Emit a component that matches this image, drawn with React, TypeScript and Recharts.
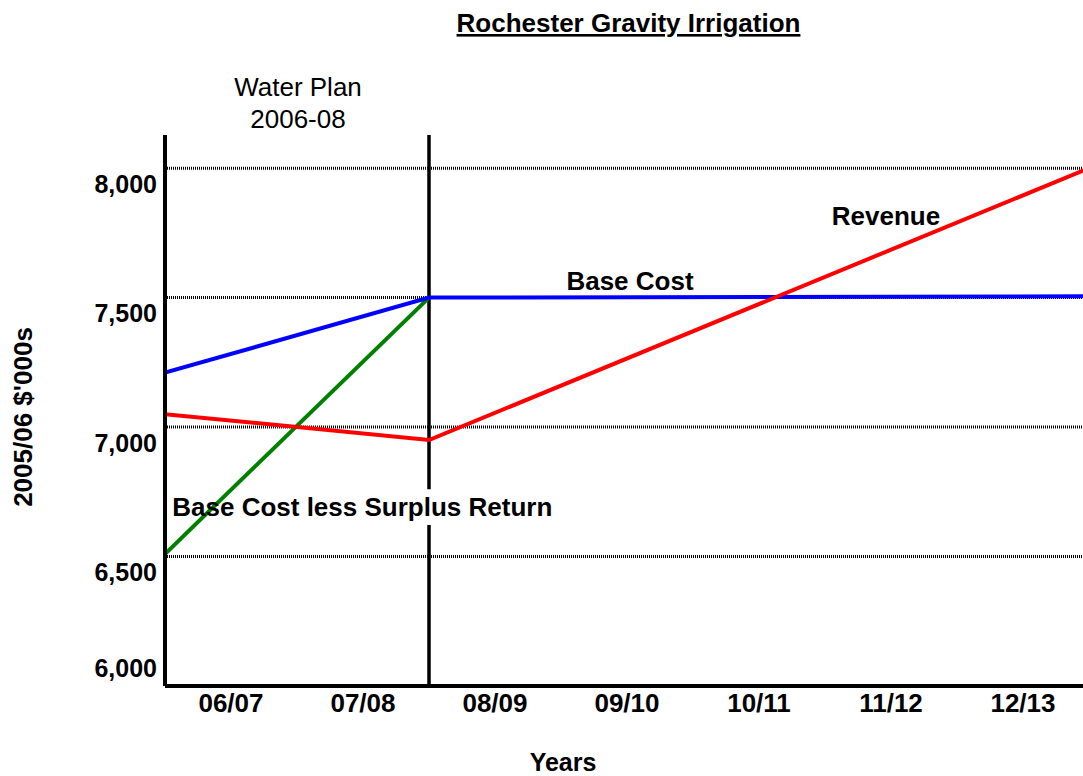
import React from 'react';
import { LineChart, Line, XAxis, YAxis, CartesianGrid, ReferenceLine, ReferenceArea } from 'recharts';

const categories = ['06/07', '07/08', '08/09', '09/10', '10/11', '11/12', '12/13'];
const periodPoints = [0, 2, 7];
const baseCost = [7210, 7500, 7505];
const baseLessSurplus: (number | null)[] = [6510, 7500, null];
const revenue = [7050, 6950, 8000];
const yTicks = [6000, 6500, 7000, 7500, 8000];
const gridValues = [6500, 7000, 7500, 8000];
const xTicks = categories.map((_, i) => i + 0.5);

const data = periodPoints.map((p, i) => ({
  p,
  baseCost: baseCost[i],
  baseLessSurplus: baseLessSurplus[i],
  revenue: revenue[i],
}));

const FONT = "Arial, 'Liberation Sans', Helvetica, sans-serif";
const Y_MIN = 6000;
const Y_MAX = 8128;
const LABEL_BOX = { x1: 0.04, x2: 2.93, y1: 6622, y2: 6760 };
const PLAN_END = 2;

const fmt = (v: number) => v.toLocaleString('en-US');

const YTick = (props: any) => {
  const { x, y, payload } = props;
  const off = payload.value === 6000 ? -18 : 16;
  return (
    <text x={x} y={y + off} dy="0.355em" textAnchor="end" fontFamily={FONT} fontSize={25} fontWeight="bold" fill="#000">
      {fmt(payload.value)}
    </text>
  );
};

export default function App() {
  return (
    <div style={{ position: 'absolute', left: 0, top: 0, width: 1083, height: 776, overflow: 'hidden', background: '#fff' }}>
      <LineChart width={1090} height={776} data={data} margin={{ top: 135, right: 1, bottom: 60, left: 0 }}>
        <CartesianGrid horizontal vertical={false} horizontalValues={gridValues} stroke="#000" strokeWidth={3} strokeDasharray="1 1" />
        <XAxis
          dataKey="p"
          type="number"
          domain={[0, 7]}
          ticks={xTicks}
          tickFormatter={(v: number) => categories[Math.floor(v)]}
          axisLine={{ stroke: '#000', strokeWidth: 4 }}
          tickLine={false}
          tickSize={0}
          tickMargin={8}
          height={30}
          tick={{ fill: '#000', fontSize: 26, fontWeight: 'bold', fontFamily: FONT }}
          allowDataOverflow
        />
        <YAxis
          type="number"
          domain={[Y_MIN, Y_MAX]}
          ticks={yTicks}
          width={165}
          axisLine={{ stroke: '#000', strokeWidth: 4 }}
          tickLine={false}
          tickSize={0}
          tickMargin={8}
          tick={<YTick />}
          allowDataOverflow
        />
        <ReferenceLine segment={[{ x: PLAN_END, y: Y_MIN }, { x: PLAN_END, y: LABEL_BOX.y1 }]} stroke="#000" strokeWidth={3.5} />
        <ReferenceLine segment={[{ x: PLAN_END, y: LABEL_BOX.y2 }, { x: PLAN_END, y: Y_MAX }]} stroke="#000" strokeWidth={3.5} />
        <ReferenceArea
          x1={LABEL_BOX.x1}
          x2={LABEL_BOX.x2}
          y1={LABEL_BOX.y1}
          y2={LABEL_BOX.y2}
          fill="#fff"
          fillOpacity={0}
          stroke="none"
          label={{ value: 'Base Cost less Surplus Return', position: 'insideLeft', offset: 2, fill: '#000', fontSize: 26, fontWeight: 'bold', fontFamily: FONT }}
        />
        <Line type="linear" dataKey="baseLessSurplus" stroke="#008000" strokeWidth={4} dot={false} isAnimationActive={false} />
        <Line type="linear" dataKey="baseCost" stroke="#0000ff" strokeWidth={4} dot={false} isAnimationActive={false} />
        <Line type="linear" dataKey="revenue" stroke="#ff0000" strokeWidth={4} dot={false} isAnimationActive={false} />
      </LineChart>
      <svg width={1083} height={776} style={{ position: 'absolute', left: 0, top: 0, pointerEvents: 'none' }}>
        <text x={628.5} y={32} textAnchor="middle" fontFamily={FONT} fontSize={26} fontWeight="bold" fill="#000" style={{ textDecoration: 'underline' }}>
          Rochester Gravity Irrigation
        </text>
        <text x={298} y={96} textAnchor="middle" fontFamily={FONT} fontSize={26} fill="#000">Water Plan</text>
        <text x={298} y={128} textAnchor="middle" fontFamily={FONT} fontSize={26} fill="#000">2006-08</text>
        <text x={32} y={417} transform="rotate(-90 32 417)" textAnchor="middle" fontFamily={FONT} fontSize={26} fontWeight="bold" fill="#000">
          2005/06 $'000s
        </text>
        <text x={563} y={771} textAnchor="middle" fontFamily={FONT} fontSize={25} fontWeight="bold" fill="#000">Years</text>
        <text x={630} y={290} textAnchor="middle" fontFamily={FONT} fontSize={26} fontWeight="bold" fill="#000">Base Cost</text>
        <text x={886} y={225} textAnchor="middle" fontFamily={FONT} fontSize={26} fontWeight="bold" fill="#000">Revenue</text>
      </svg>
    </div>
  );
}
